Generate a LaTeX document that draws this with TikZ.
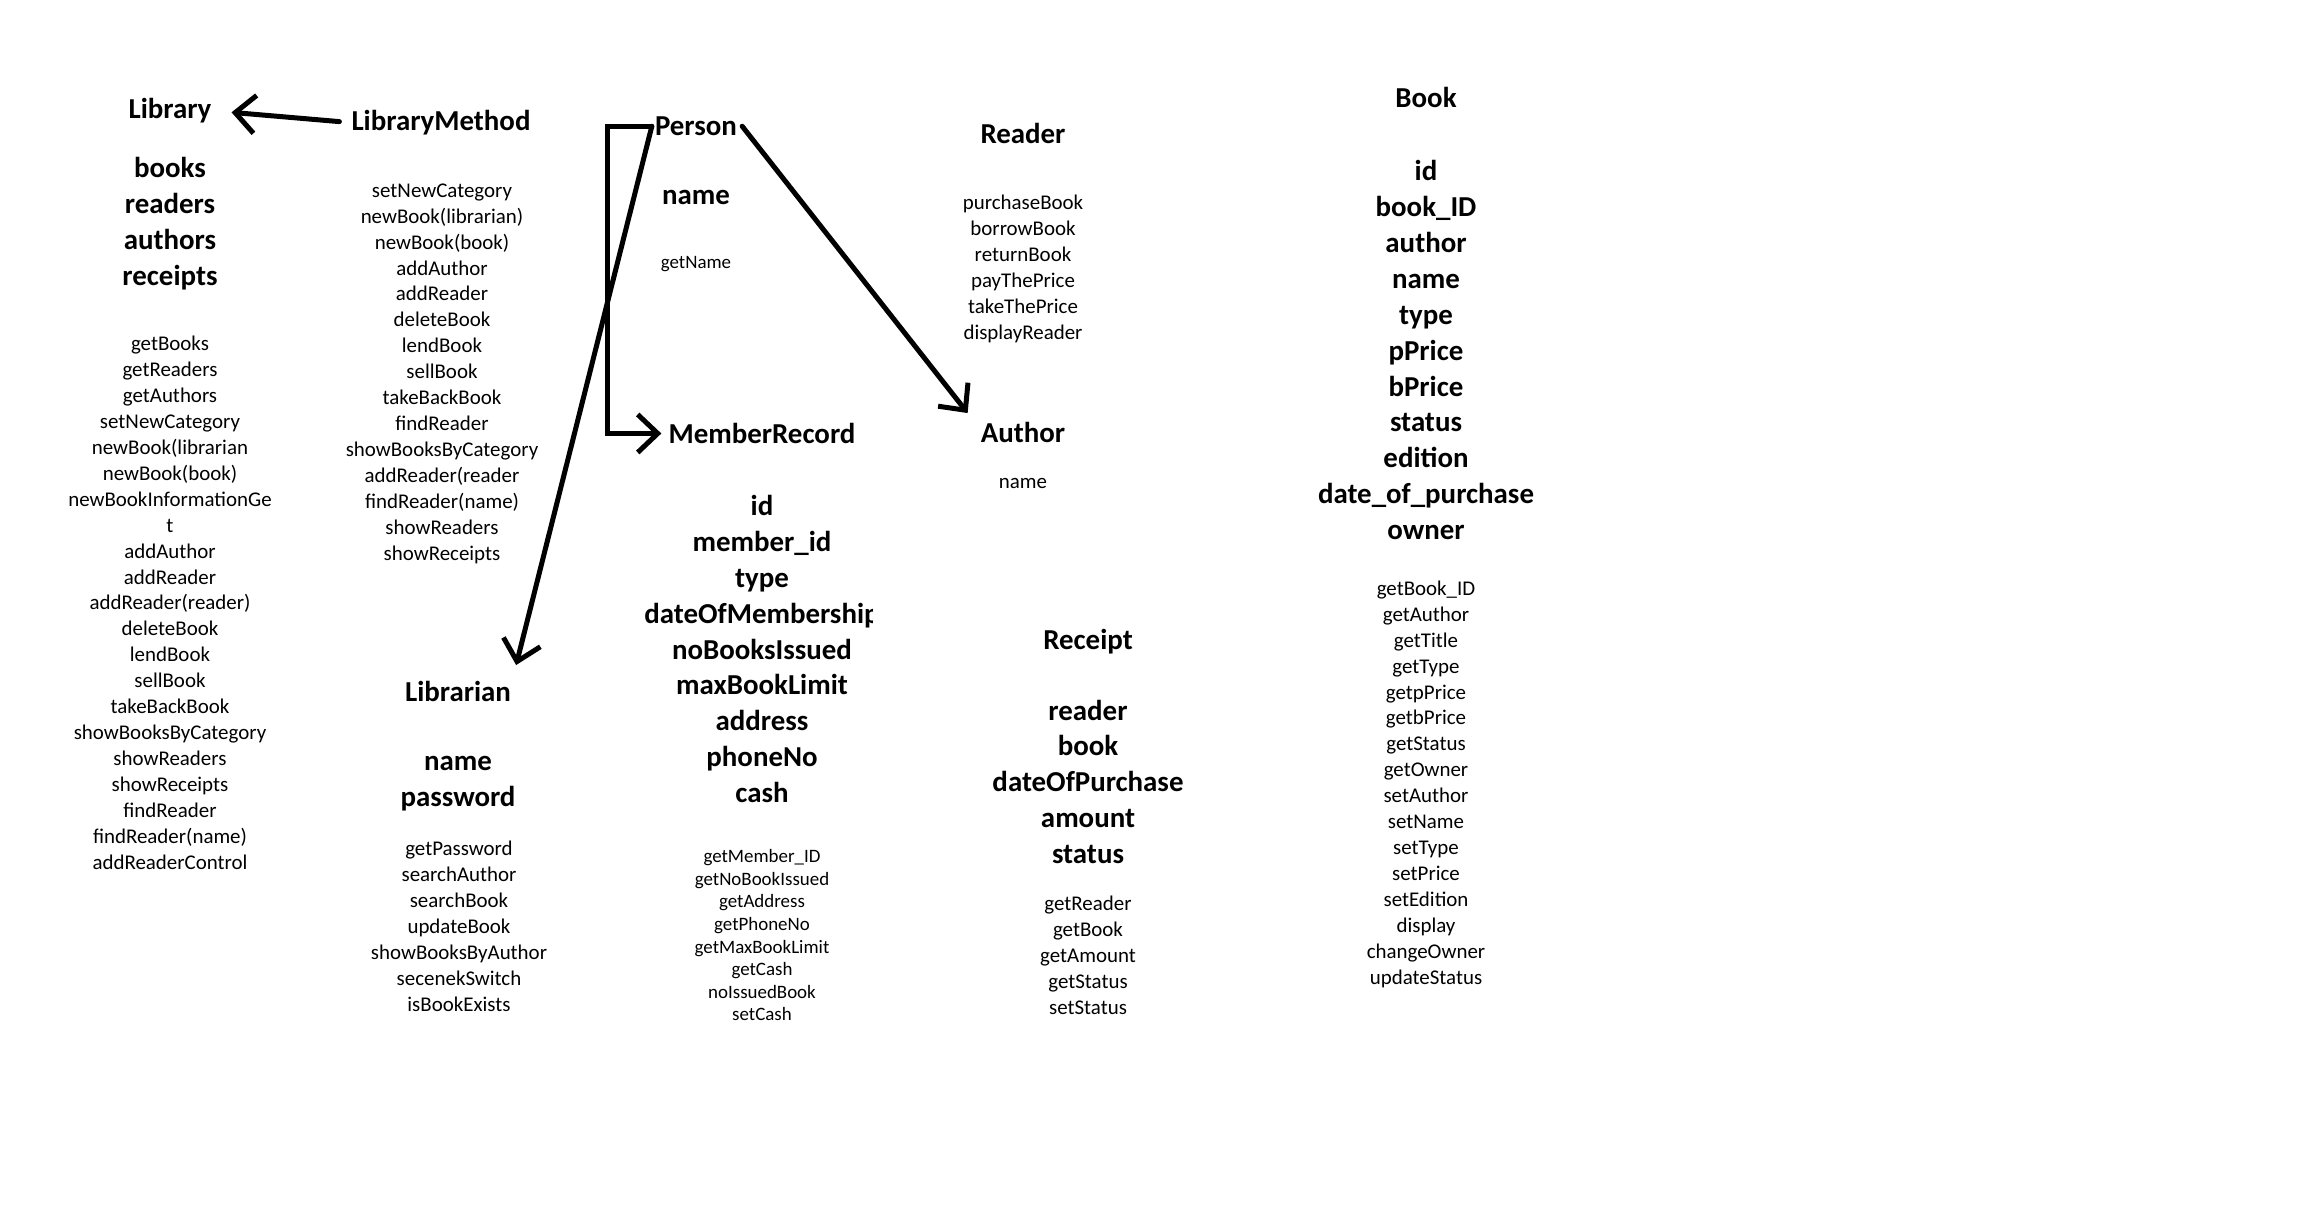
\documentclass[tikz,border=0pt]{standalone}
\usepackage{fontspec}
\setmainfont{Carlito}
\usetikzlibrary{arrows.meta}

\begin{document}
\begin{tikzpicture}[
  x=1bp, y=-1bp,
  clsname/.style={font=\fontsize{29}{36}\selectfont\bfseries, inner sep=0pt},
  attr/.style={clsname, align=center},
  meth/.style={font=\fontsize{21}{26}\selectfont, align=center, inner sep=0pt},
  smeth/.style={font=\fontsize{19}{22.7}\selectfont, align=center, inner sep=0pt},
  arr/.style={line width=5bp, line cap=round, -{Straight Barb[length=20bp, width=38bp]}},
]
\useasboundingbox[fill=white] (0,0) rectangle (2314,1222);

%% Library (base of a block = its last line)
\node[clsname, anchor=base] (lib) at (170,118.5) {Library};
\node[attr, anchor=base] (libattr) at ([yshift=-167bp]lib.base) {books\\readers\\authors\\receipts};
\node[meth, anchor=base] (libmeth) at ([yshift=-750.5bp]lib.base) {getBooks\\getReaders\\getAuthors\\setNewCategory\\newBook(librarian\\newBook(book)\\newBookInformationGe\\t\\addAuthor\\addReader\\addReader(reader)\\deleteBook\\lendBook\\sellBook\\takeBackBook\\showBooksByCategory\\showReaders\\showReceipts\\findReader\\findReader(name)\\addReaderControl};

%% LibraryMethod
\node[clsname, anchor=base] (lm) at (441,130.5) {LibraryMethod};
\node[meth, anchor=base] (lmmeth) at ([shift={(1bp,-429.5bp)}]lm.base) {setNewCategory\\newBook(librarian)\\newBook(book)\\addAuthor\\addReader\\deleteBook\\lendBook\\sellBook\\takeBackBook\\findReader\\showBooksByCategory\\addReader(reader\\findReader(name)\\showReaders\\showReceipts};

%% Person
\node[clsname, anchor=base] (person) at (696,135.5) {Person};
\node[attr, anchor=base] (pattr) at ([yshift=-68.5bp]person.base) {name};
\node[smeth, anchor=base] (pmeth) at ([yshift=-132.5bp]person.base) {getName};

%% MemberRecord
\node[clsname, anchor=base] (mr) at (762,443.5) {MemberRecord};
\begin{scope}
  \clip (600,460) rectangle (872,820);
  \node[attr, anchor=base] (mrattr) at ([yshift=-359bp]mr.base) {id\\member\_id\\type\\dateOfMembership\\noBooksIssued\\maxBookLimit\\address\\phoneNo\\cash};
\end{scope}
\node[smeth, anchor=base] (mrmeth) at ([yshift=-577.4bp]mr.base) {getMember\_ID\\getNoBookIssued\\getAddress\\getPhoneNo\\getMaxBookLimit\\getCash\\noIssuedBook\\setCash};

%% Reader
\node[clsname, anchor=base] (reader) at (1023,143.5) {Reader};
\node[meth, anchor=base] (rdmeth) at ([yshift=-195.5bp]reader.base) {purchaseBook\\borrowBook\\returnBook\\payThePrice\\takeThePrice\\displayReader};

%% Author
\node[clsname, anchor=base] (author) at (1023,442.5) {Author};
\node[meth, anchor=base] (aumeth) at ([yshift=-45.5bp]author.base) {name};

%% Librarian
\node[clsname, anchor=base] (librarian) at (458,701.5) {Librarian};
\node[attr, anchor=base] (lnattr) at ([yshift=-104.5bp]librarian.base) {name\\password};
\node[meth, anchor=base] (lnmeth) at ([shift={(1bp,-309.5bp)}]librarian.base) {getPassword\\searchAuthor\\searchBook\\updateBook\\showBooksByAuthor\\secenekSwitch\\isBookExists};

%% Receipt
\node[clsname, anchor=base] (receipt) at (1088,649.5) {Receipt};
\node[attr, anchor=base] (rcattr) at ([yshift=-214bp]receipt.base) {reader\\book\\dateOfPurchase\\amount\\status};
\node[meth, anchor=base] (rcmeth) at ([yshift=-364.5bp]receipt.base) {getReader\\getBook\\getAmount\\getStatus\\setStatus};

%% Book
\node[clsname, anchor=base] (book) at (1426,107.5) {Book};
\node[attr, anchor=base] (bkattr) at ([yshift=-432bp]book.base) {id\\book\_ID\\author\\name\\type\\pPrice\\bPrice\\status\\edition\\date\_of\_purchase\\owner};
\node[meth, anchor=base] (bkmeth) at ([yshift=-876.5bp]book.base) {getBook\_ID\\getAuthor\\getTitle\\getType\\getpPrice\\getbPrice\\getStatus\\getOwner\\setAuthor\\setName\\setType\\setPrice\\setEdition\\display\\changeOwner\\updateStatus};

%% Connectors
\draw[arr, shorten <=12bp, shorten >=20bp] (lm.west) -- (lib.east);
\draw[arr, shorten >=7bp] ([xshift=-3bp]person.west) -- ++(-44bp,0) |- (mr.west);
\draw[arr] ([xshift=-3bp]person.west) -- ([shift={(5bp,16bp)}]librarian.north east);
\draw[arr] ([xshift=5bp]person.east) -- ([shift={(-13bp,9bp)}]author.north west);

\end{tikzpicture}
\end{document}
